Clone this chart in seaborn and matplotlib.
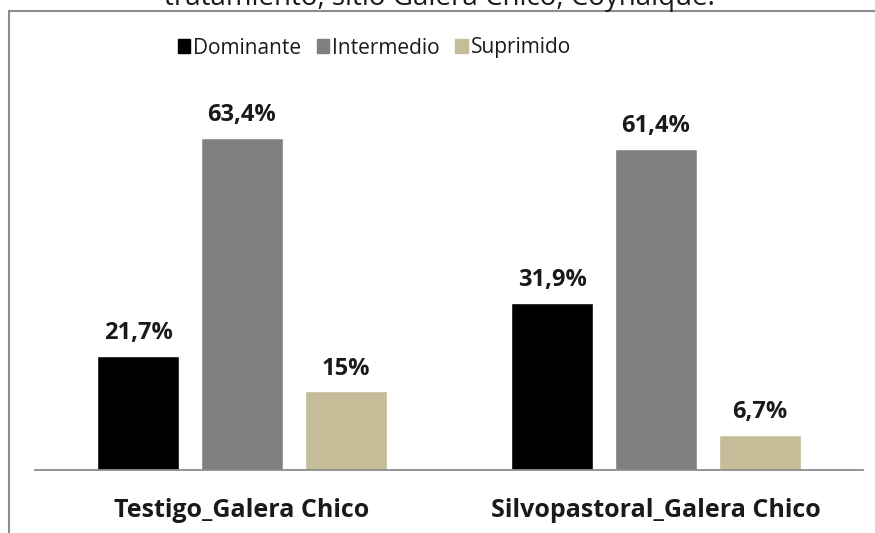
import matplotlib
matplotlib.use("Agg")
import matplotlib.pyplot as plt
import matplotlib.patches as mpatches
import seaborn as sns
import pandas as pd

sitios = ["Testigo_Galera Chico", "Silvopastoral_Galera Chico"]
clases = ["Dominante", "Intermedio", "Suprimido"]
dominante = [21.7, 31.9]
intermedio = [63.4, 61.4]
suprimido = [15.0, 6.7]
etiquetas = {
    "Dominante": ["21,7%", "31,9%"],
    "Intermedio": ["63,4%", "61,4%"],
    "Suprimido": ["15%", "6,7%"],
}
titulo = "tratamiento, sitio Galera Chico, Coyhaique."
colores = {"Dominante": "#000000", "Intermedio": "#808080", "Suprimido": "#C4BD97"}

rows = []
for c, vals in zip(clases, [dominante, intermedio, suprimido]):
    for s, v in zip(sitios, vals):
        rows.append({"sitio": s, "clase": c, "valor": v})
df = pd.DataFrame(rows)

sns.set_theme(style="white")
plt.rcParams["font.family"] = ["Open Sans", "DejaVu Sans"]

W, H = 875, 533
fig = plt.figure(figsize=(W / 100, H / 100), dpi=100)
fig.patch.set_facecolor("white")

# axes: x from 35 to 863 px, baseline at y=470 px
ax_bottom = (H - 470) / H
ymax = 80
px_per_unit = 5.235
ax_top_px = 470 - ymax * px_per_unit
ax = fig.add_axes([35 / W, ax_bottom, (863 - 35) / W, (470 - ax_top_px) / H])
ax.set_facecolor("none")

sns.barplot(data=df, x="sitio", y="valor", hue="clase", hue_order=clases,
            order=sitios, palette=colores, width=0.752, gap=0.208,
            saturation=1, legend=False, ax=ax)

ax.set_xlim(-0.5, 1.5)
ax.set_ylim(0, ymax)
for sp in ["top", "right", "left"]:
    ax.spines[sp].set_visible(False)
ax.spines["bottom"].set_color("#8C8C8C")
ax.spines["bottom"].set_linewidth(1.3)
ax.set_yticks([])
ax.set_xlabel("")
ax.set_ylabel("")
ax.tick_params(axis="x", length=0, pad=20.5)
for lab in ax.get_xticklabels():
    lab.set_fontsize(18)
    lab.set_fontweight("bold")
    lab.set_color("#1a1a1a")

for cont, c in zip(ax.containers, clases):
    for bar, txt in zip(cont, etiquetas[c]):
        ax.annotate(txt, (bar.get_x() + bar.get_width() / 2, bar.get_height()),
                    xytext=(0, 12.2), textcoords="offset points",
                    ha="center", va="baseline", fontsize=17,
                    fontweight="bold", color="#1a1a1a")

handles = [mpatches.Patch(color=colores[c], label=c) for c in clases]
fig.legend(handles=handles, loc="center", ncol=3, frameon=False,
           bbox_to_anchor=(374.5 / W, 1 - 48 / H), fontsize=15,
           handlelength=0.58, handleheight=0.62, handletextpad=0.15,
           columnspacing=0.75, labelcolor="#1a1a1a")

# outer chart border (partly outside figure)
border = mpatches.Rectangle((8.5 / W, -0.2), 1.5, 1.2 - 11 / H,
                            transform=fig.transFigure, fill=False,
                            edgecolor="#8C8C8C", linewidth=1.5)
fig.patches.append(border)

fig.text(439 / W, 1 - 5 / H, titulo, ha="center", va="baseline",
         fontsize=20, color="#1a1a1a")

fig.savefig("out.png", dpi=100)
